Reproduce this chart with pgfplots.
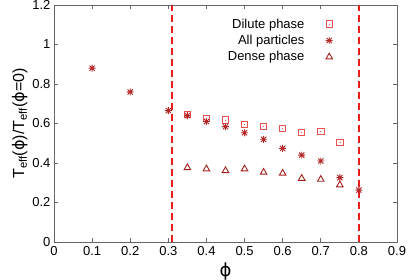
\documentclass[border=0pt]{standalone}
\usepackage{pgfplots}
\pgfplotsset{compat=1.18}
\usepackage{fontspec}
\setmainfont{Liberation Sans}
\newfontfamily\dejavu{DejaVu Sans}
\newcommand{\ph}{{\dejavu ϕ}}
\definecolor{sqc}{RGB}{235,80,80}
\definecolor{stc}{RGB}{180,40,40}
\definecolor{trc}{RGB}{165,30,30}
\definecolor{dashc}{RGB}{235,30,30}
\pgfdeclareplotmark{gpstar}{%
  \pgfpathmoveto{\pgfqpoint{-\pgfplotmarksize}{0pt}}\pgfpathlineto{\pgfqpoint{\pgfplotmarksize}{0pt}}%
  \pgfpathmoveto{\pgfqpoint{0pt}{-\pgfplotmarksize}}\pgfpathlineto{\pgfqpoint{0pt}{\pgfplotmarksize}}%
  \pgfpathmoveto{\pgfqpoint{-0.75\pgfplotmarksize}{-0.75\pgfplotmarksize}}\pgfpathlineto{\pgfqpoint{0.75\pgfplotmarksize}{0.75\pgfplotmarksize}}%
  \pgfpathmoveto{\pgfqpoint{-0.75\pgfplotmarksize}{0.75\pgfplotmarksize}}\pgfpathlineto{\pgfqpoint{0.75\pgfplotmarksize}{-0.75\pgfplotmarksize}}%
  \pgfusepathqstroke}
\pgfdeclareplotmark{gpsquare}{%
  \pgfpathrectangle{\pgfqpoint{-\pgfplotmarksize}{-\pgfplotmarksize}}{\pgfqpoint{2\pgfplotmarksize}{2\pgfplotmarksize}}%
  \pgfusepathqstroke
  \pgfpathrectangle{\pgfqpoint{-0.3pt}{-0.3pt}}{\pgfqpoint{0.6pt}{0.6pt}}\pgfusepathqfill}
\pgfplotsset{myleg/.style={legend image code/.code={%
  \path[draw=none,fill=none] (0cm,-0.1cm) rectangle (0.9cm,0.1cm);
  \draw[##1,/tikz/only marks] plot coordinates {(0.8cm,0cm)};}}}
\begin{document}
\begin{tikzpicture}
\begin{axis}[
  name=ax,
  scale only axis,
  width=343pt, height=237pt,
  xmin=0, xmax=0.9, ymin=0, ymax=1.2,
  xtick={0,0.1,...,0.9}, ytick={0,0.2,...,1.2},
  xticklabels={0,0.1,0.2,0.3,0.4,0.5,0.6,0.7,0.8,0.9},
  yticklabels={0,0.2,0.4,0.6,0.8,1,1.2},
  tick align=inside,
  major tick length=4pt,
  axis line style={gray!80!black, line width=0.8pt},
  tick style={gray!80!black, line width=0.6pt},
  ticklabel style={font=\fontsize{13}{15}\selectfont},
  xticklabel style={yshift=-1pt},
  xlabel={\fontsize{18}{20}\selectfont\ph},
  ylabel={\fontsize{16}{18}\selectfont T\textsubscript{eff}(\ph)/T\textsubscript{eff}(\ph=0)},
  xlabel style={yshift=0pt},
  ylabel style={yshift=-2pt},
  legend style={draw=none, fill=none, at={(0.822,0.96)}, anchor=north east,
    font=\fontsize{13}{15}\selectfont, row sep=1.5pt},
  legend cell align=right,
  legend plot pos=right,
]
\addplot[dashc, line width=1.4pt, dash pattern=on 7pt off 4pt, forget plot] coordinates {(0.31,0) (0.31,1.2)};
\addplot[dashc, line width=1.4pt, dash pattern=on 7pt off 4pt, forget plot] coordinates {(0.80,0) (0.80,1.2)};
\addplot[only marks, myleg, mark=gpsquare, mark size=3.2pt, sqc, line width=0.9pt] coordinates {
(0.35,0.645) (0.40,0.626) (0.45,0.618) (0.50,0.596) (0.55,0.584) (0.60,0.576) (0.65,0.555) (0.70,0.559) (0.75,0.503)};
\addlegendentry{Dilute phase}
\addplot[only marks, myleg, mark=gpstar, mark size=3.5pt, stc, line width=0.9pt] coordinates {
(0.1,0.88) (0.2,0.76) (0.3,0.665) (0.35,0.64) (0.40,0.61) (0.45,0.584) (0.50,0.553) (0.55,0.52) (0.60,0.474) (0.65,0.44) (0.70,0.41) (0.75,0.326) (0.80,0.263)};
\addlegendentry{All particles}
\addplot[only marks, myleg, mark=triangle, mark size=3.8pt, trc, line width=0.9pt] coordinates {
(0.35,0.376) (0.40,0.37) (0.45,0.361) (0.50,0.37) (0.55,0.353) (0.60,0.348) (0.65,0.322) (0.70,0.317) (0.75,0.289)};
\addlegendentry{Dense phase}
\end{axis}
\pgfresetboundingbox
\useasboundingbox (ax.south west) ++(-54pt,-38pt) rectangle ++(409pt,280pt);
\end{tikzpicture}
\end{document}
